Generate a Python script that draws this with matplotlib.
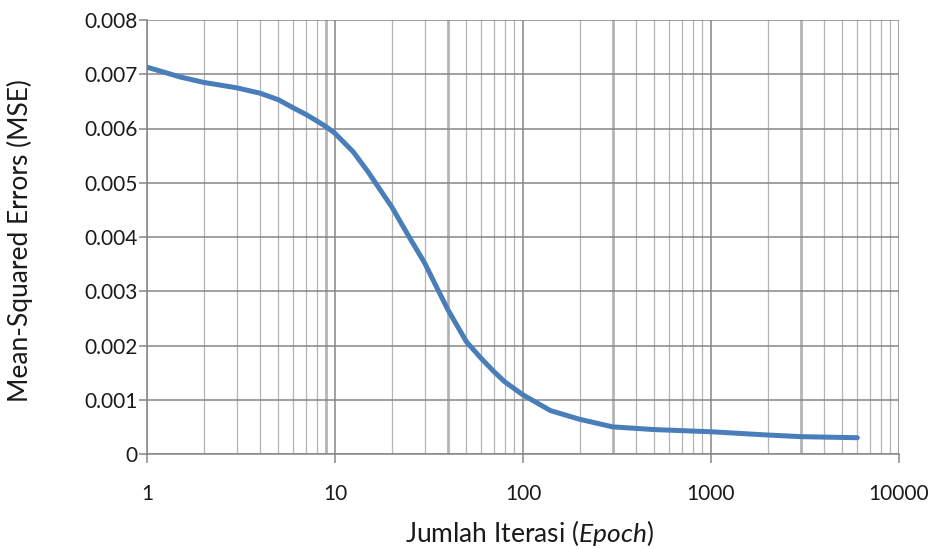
import matplotlib
matplotlib.use("Agg")
import matplotlib.pyplot as plt
from matplotlib.ticker import LogLocator, FixedLocator
import numpy as np

# ---- data ----
epochs = [1, 1.5, 2, 3, 4, 5, 6, 7, 8, 9, 10, 12.5, 15, 16.7, 20, 25, 30, 35, 40,
          50, 60, 70, 80, 100, 140, 200, 300, 500, 1000, 2000, 3000, 6000]
mse = [0.00713, 0.00695, 0.00685, 0.00675, 0.00665, 0.00653, 0.00638, 0.00626,
       0.00614, 0.00603, 0.00591, 0.00557, 0.00520, 0.00496, 0.00456, 0.00398,
       0.00352, 0.00305, 0.00265, 0.00207, 0.00176, 0.00152, 0.00133, 0.00109,
       0.00080, 0.00064, 0.00050, 0.00045, 0.00041, 0.00035, 0.00032, 0.00030]
y_ticks = [0, 0.001, 0.002, 0.003, 0.004, 0.005, 0.006, 0.007, 0.008]
y_tick_labels = ["0", "0.001", "0.002", "0.003", "0.004", "0.005", "0.006", "0.007", "0.008"]
x_ticks = [1, 10, 100, 1000, 10000]
x_tick_labels = ["1", "10", "100", "1000", "10000"]
x_label = "Jumlah Iterasi ($\\mathit{Epoch}$)"
y_label = "Mean-Squared Errors (MSE)"

plt.rcParams['font.family'] = ['Lato', 'DejaVu Sans']
plt.rcParams['mathtext.fontset'] = 'custom'
plt.rcParams['mathtext.rm'] = 'Lato'
plt.rcParams['mathtext.it'] = 'Lato:italic'

fig = plt.figure(figsize=(9.36, 5.49), dpi=100)
ax = fig.add_axes([147/936, 1 - 454/549, (899-147)/936, (454-20)/549])

ax.set_xscale('log')
ax.set_xlim(1, 10000)
ax.set_ylim(0, 0.008)

major_c = '#868686'
minor_c = '#b4b4b4'
text_c = '#1a1a1a'

ax.xaxis.set_major_locator(FixedLocator(x_ticks))
ax.xaxis.set_minor_locator(LogLocator(base=10, subs=np.arange(2, 10)))
ax.set_xticks(x_ticks)
ax.set_xticklabels(x_tick_labels)
ax.set_yticks(y_ticks)
ax.set_yticklabels(y_tick_labels)

# grid lines
ax.grid(which='major', axis='both', color=major_c, linewidth=1.1)
minor_locs = ax.xaxis.get_minorticklocs()
emph = {9, 40, 300, 3000}
for loc in minor_locs:
    if loc <= 1 or loc >= 10000:
        continue
    r = int(round(loc))
    lw = 2.0 if r in emph else 0.9
    ax.axvline(loc, color=minor_c, linewidth=lw, zorder=0.5)
ax.set_axisbelow(True)

ax.plot(epochs, mse, color='#4a7ebb', linewidth=3.6, solid_capstyle='round', zorder=3)

for s in ['top', 'right']:
    ax.spines[s].set_visible(False)
for s in ['left', 'bottom']:
    ax.spines[s].set_color(major_c)
    ax.spines[s].set_linewidth(1.1)

ax.tick_params(axis='x', which='major', length=6.5, width=1.1, color=major_c,
               pad=15, labelsize=15, labelcolor=text_c)
ax.tick_params(axis='x', which='minor', length=0)
ax.tick_params(axis='y', which='major', length=5.5, width=1.1, color=major_c,
               pad=1.5, labelsize=15, labelcolor=text_c)

ax.set_xlabel(x_label, fontsize=19, color=text_c)
ax.set_ylabel(y_label, fontsize=19, color=text_c)
ax.xaxis.set_label_coords((529 - 147) / 752, (454 - 518) / 434)
ax.yaxis.set_label_coords((33 - 147) / 752, (454 - 241) / 434)

fig.savefig('out.png', dpi=100)
